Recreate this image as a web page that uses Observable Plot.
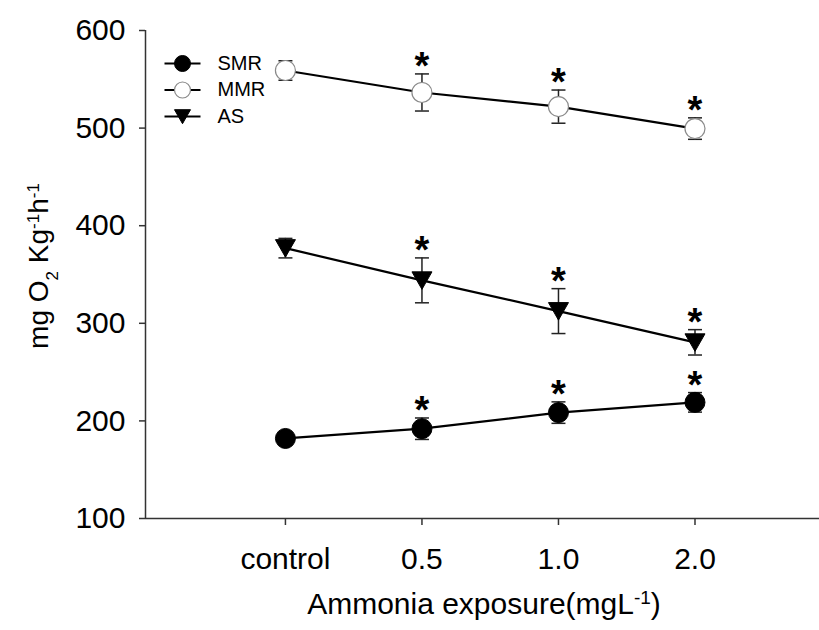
<!DOCTYPE html>
<html>
<head>
<meta charset="utf-8">
<script src="https://cdn.jsdelivr.net/npm/d3@7"></script>
<script src="https://cdn.jsdelivr.net/npm/@observablehq/plot@0.6"></script>
<style>
  html, body { margin: 0; padding: 0; background: #fff; }
  #chart { width: 819px; height: 630px; }
</style>
</head>
<body>
<div id="chart"></div>
<script>
// ---- data ----
const doses = ["control", "0.5", "1.0", "2.0"];
const seriesNames = ["SMR", "MMR", "AS"];
const smrMean = [182, 192, 208.5, 219];
const smrErr  = [3, 11, 11, 10];
const mmrMean = [559, 536.5, 522, 499.5];
const mmrErr  = [10, 19, 17, 11];
const asMean  = [377, 344, 312.5, 280.5];
const asErr   = [10, 23, 23, 13];
const significant = [false, true, true, true];
const yTicks = [100, 200, 300, 400, 500, 600];

// ---- build rows ----
const means = {SMR: smrMean, MMR: mmrMean, AS: asMean};
const errs = {SMR: smrErr, MMR: mmrErr, AS: asErr};
const rows = [];
for (const s of seriesNames) {
  doses.forEach((d, i) => {
    rows.push({series: s, x: i, y: means[s][i], lo: means[s][i] - errs[s][i], hi: means[s][i] + errs[s][i], sig: significant[i]});
  });
}

// ---- custom symbols ----
const hline = {draw(ctx, size) { const r = Math.sqrt(size / Math.PI); ctx.moveTo(-r, 0); ctx.lineTo(r, 0); }};
const triDown = {draw(ctx, size) { const r = Math.sqrt(size / Math.PI); ctx.moveTo(-r, -0.85 * r); ctx.lineTo(r, -0.85 * r); ctx.lineTo(0, 0.9 * r); ctx.closePath(); }};

const styleFor = {
  SMR: {symbol: "circle", fill: "black", stroke: "black", strokeWidth: 1},
  MMR: {symbol: "circle", fill: "white", stroke: "#8a8a8a", strokeWidth: 1.2},
  AS:  {symbol: triDown, fill: "black", stroke: "black", strokeWidth: 1}
};

const xDomain = [-1.025, 3.912];

const marks = [
  Plot.ruleX([xDomain[0]], {stroke: "#333", strokeWidth: 1.5}),
  Plot.ruleY([100], {stroke: "#333", strokeWidth: 1.5}),
  Plot.axisY({ticks: yTicks, tickSize: 6, tickPadding: 14, label: null, stroke: "#333", strokeWidth: 1.5, fontSize: 30}),
  Plot.axisX({ticks: [0, 1, 2, 3], tickFormat: (i) => doses[i], tickSize: 7, tickPadding: 22, label: null, stroke: "#333", strokeWidth: 1.5, fontSize: 30}),
  Plot.line(rows, {x: "x", y: "y", z: "series", stroke: "black", strokeWidth: 2.2}),
  Plot.ruleX(rows, {x: "x", y1: "lo", y2: "hi", stroke: "#222", strokeWidth: 1.5}),
  Plot.dot(rows, {x: "x", y: "hi", symbol: hline, r: 7, stroke: "#222", strokeWidth: 1.5, fill: "none"}),
  Plot.dot(rows, {x: "x", y: "lo", symbol: hline, r: 7, stroke: "#222", strokeWidth: 1.5, fill: "none"})
];
for (const s of seriesNames) {
  const st = styleFor[s];
  marks.push(Plot.dot(rows.filter(d => d.series === s), {x: "x", y: "y", r: 10, ...st}));
}
marks.push(Plot.text(rows.filter(d => d.sig), {x: "x", y: "hi", text: () => "*", fontSize: 38, fontWeight: "bold", dy: -7, textAnchor: "middle"}));

// legend
seriesNames.forEach((s, i) => {
  const dy = 33 + i * 26.5;
  const st = styleFor[s];
  marks.push(Plot.dot([s], {frameAnchor: "top-left", dx: 37, dy, symbol: hline, r: 18, stroke: "black", strokeWidth: 2, fill: "none"}));
  marks.push(Plot.dot([s], {frameAnchor: "top-left", dx: 37, dy, r: 8, ...st}));
  marks.push(Plot.text([s], {frameAnchor: "top-left", dx: 72, dy, text: d => d, textAnchor: "start", lineAnchor: "middle", fontSize: 20}));
});

const chart = Plot.plot({
  width: 819,
  height: 630,
  marginLeft: 145,
  marginRight: 0,
  marginTop: 30,
  marginBottom: 112,
  style: {fontFamily: "'Liberation Sans', Arial, sans-serif", fontSize: "30px", color: "black", background: "white"},
  x: {domain: xDomain},
  y: {domain: [100, 600]},
  marks
});

// axis titles with superscripts/subscripts
const svg = d3.select(chart);
const xt = svg.append("text")
  .attr("x", 484).attr("y", 614)
  .attr("text-anchor", "middle")
  .attr("font-size", 30).attr("fill", "black");
xt.append("tspan").text("Ammonia exposure(mgL");
xt.append("tspan").attr("font-size", 19).attr("baseline-shift", "super").text("-1");
xt.append("tspan").text(")");

const yt = svg.append("text")
  .attr("transform", "translate(48,266) rotate(-90)")
  .attr("text-anchor", "middle")
  .attr("font-size", 28).attr("fill", "black");
yt.append("tspan").text("mg O");
yt.append("tspan").attr("font-size", 17).attr("baseline-shift", "sub").text("2");
yt.append("tspan").text(" Kg");
yt.append("tspan").attr("font-size", 17).attr("baseline-shift", "super").text("-1");
yt.append("tspan").text("h");
yt.append("tspan").attr("font-size", 17).attr("baseline-shift", "super").text("-1");

document.getElementById("chart").appendChild(chart);
</script>
</body>
</html>
